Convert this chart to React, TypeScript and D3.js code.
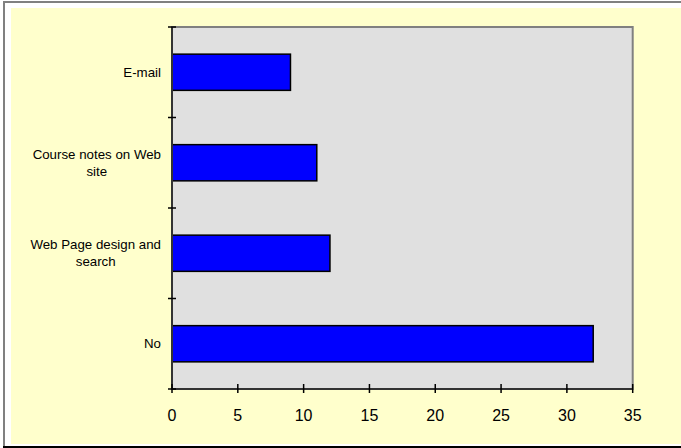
import React from "react";
import * as d3 from "d3";

const categories: string[][] = [
  ["E-mail"],
  ["Course notes on Web", "site"],
  ["Web Page design and", "search"],
  ["No"],
];
const values: number[] = [9, 11, 12, 32];
const xTicks: number[] = [0, 5, 10, 15, 20, 25, 30, 35];

const W = 681;
const H = 448;
const PL = 172;
const PR = 632.7;
const PT = 27;
const PB = 389;
const FONT = "'Liberation Sans', Arial, sans-serif";
const LABEL_SIZE = 13.3;

function measure(text: string, size: number): number {
  const c = document.createElement("canvas");
  const ctx = c.getContext("2d");
  if (!ctx) return text.length * size * 0.5;
  ctx.font = `${size}px 'Liberation Sans', Arial, sans-serif`;
  return ctx.measureText(text).width;
}

export default function App() {
  const x = d3.scaleLinear().domain([0, 35]).range([PL, PR]);
  const keys = categories.map((c) => c.join(" "));
  const y = d3
    .scaleBand<string>()
    .domain(keys)
    .range([PT, PB])
    .paddingInner(0.6)
    .paddingOuter(0.3);
  const step = y.step();
  const boundaries = d3.range(keys.length + 1).map((i) => PT + i * step);
  const labelRight = 161;
  const lh = 17;

  return (
    <svg
      width={W}
      height={H}
      style={{ position: "absolute", left: 0, top: 0, display: "block" }}
    >
      <rect x={0} y={0} width={W} height={H} fill="#ffffff" />
      <rect x={11} y={8} width={W - 11} height={444 - 8} fill="#FFFFCC" />
      <line x1={3} x2={W} y1={2} y2={2} stroke="#808080" strokeWidth={2} />
      <line x1={4} x2={4} y1={1} y2={446} stroke="#808080" strokeWidth={2} />
      <line x1={3} x2={W} y1={447} y2={447} stroke="#000000" strokeWidth={2} />

      <rect
        x={PL}
        y={PT}
        width={PR - PL}
        height={PB - PT}
        fill="#E0E0E0"
        stroke="#808080"
        strokeWidth={2}
      />

      {keys.map((k, i) => (
        <rect
          key={k}
          x={x(0)}
          y={y(k)!}
          width={x(values[i]) - x(0)}
          height={y.bandwidth()}
          fill="#0000FF"
          stroke="#000000"
          strokeWidth={1.5}
        />
      ))}

      <line x1={PL} x2={PL} y1={PT} y2={PB} stroke="#333333" strokeWidth={2} />
      <line x1={PL} x2={PR} y1={PB} y2={PB} stroke="#333333" strokeWidth={2} />

      {boundaries.map((b, i) => (
        <line
          key={"yt" + i}
          x1={PL - 4}
          x2={PL + 4}
          y1={b}
          y2={b}
          stroke="#000000"
          strokeWidth={1.5}
        />
      ))}
      {xTicks.map((t) => (
        <line
          key={"xt" + t}
          x1={x(t)}
          x2={x(t)}
          y1={PB - 5}
          y2={PB + 4}
          stroke="#000000"
          strokeWidth={1.5}
        />
      ))}
      {xTicks.map((t) => (
        <text
          key={"xl" + t}
          x={x(t)}
          y={420.5}
          textAnchor="middle"
          fontFamily={FONT}
          fontSize={16}
          fill="#000000"
        >
          {t}
        </text>
      ))}

      {categories.map((lines, i) => {
        const k = keys[i];
        const cy = y(k)! + y.bandwidth() / 2;
        const maxW = Math.max(...lines.map((l) => measure(l, LABEL_SIZE)));
        const cx = labelRight - maxW / 2;
        const start = cy - ((lines.length - 1) * lh) / 2;
        return (
          <text
            key={"cl" + k}
            textAnchor="middle"
            fontFamily={FONT}
            fontSize={LABEL_SIZE}
            fill="#000000"
          >
            {lines.map((l, j) => (
              <tspan key={j} x={cx} y={start + j * lh + 4.7}>
                {l}
              </tspan>
            ))}
          </text>
        );
      })}
    </svg>
  );
}
